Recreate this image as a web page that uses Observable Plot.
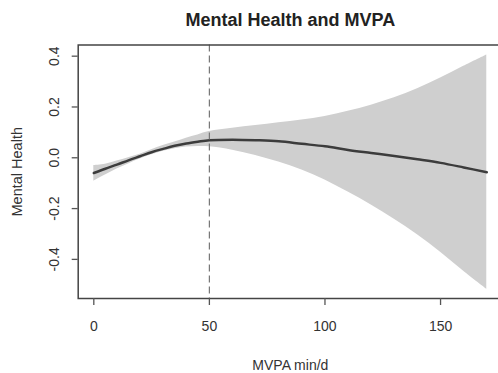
<!DOCTYPE html>
<html>
<head>
<meta charset="utf-8">
<script src="https://cdn.jsdelivr.net/npm/d3@7"></script>
<script src="https://cdn.jsdelivr.net/npm/@observablehq/plot@0.6"></script>
<style>
  html, body { margin: 0; padding: 0; background: #fff; overflow: hidden; }
  #chart svg { display: block; }
</style>
</head>
<body>
<div id="chart"></div>
<script>
const title = "Mental Health and MVPA";
const xLabel = "MVPA min/d";
const yLabel = "Mental Health";

const mvpa = [0, 5, 10, 15, 20, 25, 30, 35, 40, 45, 50, 60, 70, 80, 90, 100, 110, 120, 130, 140, 150, 160, 170];
const fit = [-0.06, -0.043, -0.027, -0.01, 0.006, 0.022, 0.035, 0.047, 0.056, 0.063, 0.069, 0.071, 0.069, 0.065, 0.055, 0.045, 0.031, 0.019, 0.007, -0.006, -0.02, -0.038, -0.057];
const upper = [-0.03, -0.025, -0.013, 0.0, 0.014, 0.032, 0.048, 0.062, 0.077, 0.09, 0.103, 0.116, 0.127, 0.138, 0.149, 0.163, 0.183, 0.207, 0.236, 0.272, 0.314, 0.36, 0.405];
const lower = [-0.092, -0.068, -0.044, -0.024, -0.005, 0.012, 0.026, 0.036, 0.042, 0.044, 0.043, 0.03, 0.009, -0.017, -0.048, -0.087, -0.135, -0.186, -0.242, -0.303, -0.372, -0.447, -0.518];

const threshold = [50];
const xTicks = [0, 50, 100, 150];
const yTicks = [0.4, 0.2, 0.0, -0.2, -0.4];
const yTickLabels = ["0.4", "0.2", "0.0", "-0.2", "-0.4"];

const data = mvpa.map((x, i) => ({x, fit: fit[i], lo: lower[i], hi: upper[i]}));

const font = "'Liberation Sans', Arial, Helvetica, sans-serif";
const ink = "#333";

const chart = Plot.plot({
  width: 498,
  height: 373,
  marginTop: 44.5,
  marginBottom: 75,
  marginLeft: 77.7,
  marginRight: -4,
  style: {fontFamily: font, color: ink, background: "#fff"},
  x: {domain: [-6.75, 176.8], axis: null},
  y: {domain: [-0.554, 0.444], axis: null},
  marks: [
    Plot.areaY(data, {x: "x", y1: "lo", y2: "hi", fill: "#cfcfcf", curve: "catmull-rom"}),
    Plot.line(data, {x: "x", y: "fit", stroke: "#3c3c3c", strokeWidth: 2.5, curve: "catmull-rom"}),
    Plot.ruleX(threshold, {stroke: "#777", strokeWidth: 1.2, strokeDasharray: "7,4"}),
    Plot.frame({stroke: "#444", strokeWidth: 1.5}),
    Plot.axisX({ticks: xTicks, label: null, tickSize: 7, tickPadding: 16, fontSize: 14, stroke: "#555", strokeWidth: 1.3, fill: ink}),
    Plot.axisY({ticks: yTicks, label: null, tickSize: 6, tickFormat: () => "", stroke: "#555", strokeWidth: 1.3}),
    Plot.text(yTicks, {y: d => d, text: (d, i) => yTickLabels[i], frameAnchor: "left", textAnchor: "middle", lineAnchor: "middle", dx: -24, rotate: -90, fontSize: 14, fill: ink}),
    Plot.text([yLabel], {frameAnchor: "left", textAnchor: "middle", lineAnchor: "middle", dx: -61, rotate: -90, fontSize: 14.5, fill: ink}),
    Plot.text([xLabel], {frameAnchor: "bottom", textAnchor: "middle", lineAnchor: "middle", dy: 67, fontSize: 14, fill: ink}),
    Plot.text([title], {frameAnchor: "top", textAnchor: "middle", lineAnchor: "middle", dy: -24.5, fontSize: 18, fontWeight: "bold", fill: "#222"})
  ]
});
document.getElementById("chart").append(chart);
</script>
</body>
</html>
